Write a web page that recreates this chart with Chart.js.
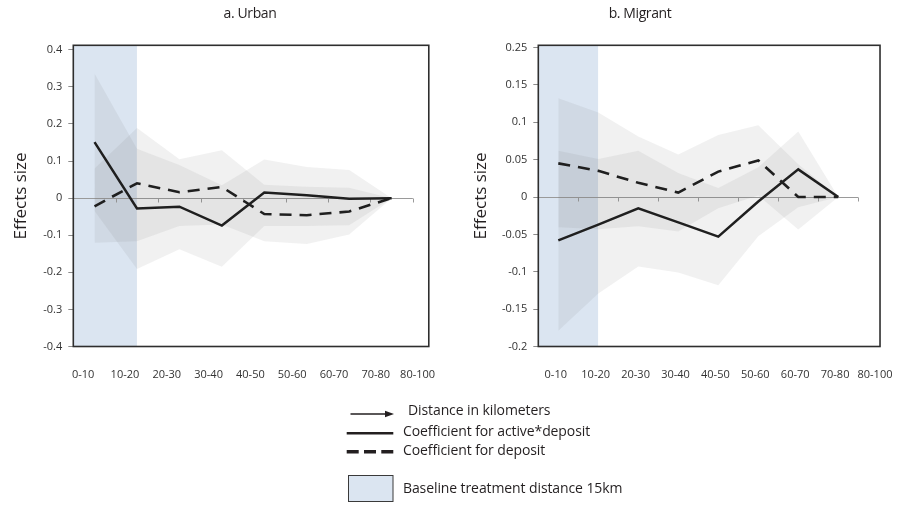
<!DOCTYPE html>
<html>
<head>
<meta charset="utf-8">
<script src="https://cdn.jsdelivr.net/npm/chart.js@4.4.1/dist/chart.umd.min.js"></script>
<style>
  html, body { margin: 0; padding: 0; background: #fff; }
  body { width: 915px; height: 513px; position: relative; overflow: hidden;
         font-family: "Open Sans", sans-serif; color: #231f20; }
  canvas { position: absolute; top: 0; }
  #urban { left: 0; }
  #migrant { left: 458px; }
  .ttl { position: absolute; top: 5px; width: 200px; text-align: center;
         font-size: 14px; line-height: 16px; letter-spacing: -0.4px; }
  .leg { position: absolute; font-size: 14px; line-height: 16px; white-space: nowrap; letter-spacing: -0.1px; }
  svg { position: absolute; left: 0; top: 0; }
</style>
</head>
<body>
<canvas id="urban" width="458" height="400"></canvas>
<canvas id="migrant" width="457" height="400"></canvas>

<div class="ttl" style="left:150px">a. Urban</div>
<div class="ttl" style="left:540px">b. Migrant</div>

<svg width="915" height="513">
  <line x1="350.5" y1="414" x2="388" y2="414" stroke="#231f20" stroke-width="1.3"/>
  <polygon points="385,410.8 394,414 385,417.2" fill="#231f20"/>
  <line x1="346.7" y1="433.3" x2="393.3" y2="433.3" stroke="#231f20" stroke-width="2.5"/>
  <line x1="346.7" y1="451.7" x2="393.3" y2="451.7" stroke="#231f20" stroke-width="3.5" stroke-dasharray="12,5.3"/>
  <rect x="348.5" y="475.5" width="44.5" height="26" fill="rgb(219,229,241)" stroke="#3a3a3a" stroke-width="1"/>
</svg>
<div class="leg" style="left:408px; top:402px">Distance in kilometers</div>
<div class="leg" style="left:403px; top:423px">Coefficient for active*deposit</div>
<div class="leg" style="left:403px; top:442px">Coefficient for deposit</div>
<div class="leg" style="left:403px; top:480px">Baseline treatment distance 15km</div>

<script>
// Distance bins (10 km each, last one open-ended)
const distLabels = ['0-10', '10-20', '20-30', '30-40', '40-50', '50-60', '60-70', '70-80', '80-100'];
const binKm = 10;
const baselineKm = 15;

// a. Urban — point estimates and confidence bands
const urbanActive     = [0.151, -0.028, -0.023, -0.074, 0.015, 0.008, -0.002, 0];
const urbanDeposit    = [-0.022, 0.040, 0.016, 0.030, -0.043, -0.046, -0.036, 0];
const urbanActiveHi   = [0.336, 0.133, 0.089, 0.035, 0.104, 0.084, 0.076, 0];
const urbanActiveLo   = [-0.035, -0.191, -0.138, -0.185, -0.075, -0.075, -0.073, 0];
const urbanDepositHi  = [0.080, 0.189, 0.105, 0.129, 0.036, 0.031, 0.028, 0];
const urbanDepositLo  = [-0.120, -0.116, -0.075, -0.071, -0.116, -0.124, -0.098, 0];
const urbanYTicks     = [-0.4, -0.3, -0.2, -0.1, 0, 0.1, 0.2, 0.3, 0.4];
const urbanYLabels    = ['-0.4', '-0.3', '-0.2', '-0.1', '0', '0.1', '0.2', '0.3', '0.4'];

// b. Migrant — point estimates and confidence bands
const migActive     = [-0.058, -0.037, -0.015, -0.034, -0.053, -0.006, 0.037, 0];
const migDeposit    = [0.045, 0.035, 0.019, 0.006, 0.034, 0.049, 0, 0];
const migActiveHi   = [0.062, 0.051, 0.062, 0.032, 0.012, 0.040, 0.0875, 0];
const migActiveLo   = [-0.179, -0.129, -0.093, -0.101, -0.118, -0.0525, -0.0136, 0];
const migDepositHi  = [0.132, 0.113, 0.081, 0.057, 0.083, 0.096, 0.044, 0];
const migDepositLo  = [-0.0405, -0.043, -0.039, -0.046, -0.015, 0.002, -0.0436, 0];
const migYTicks     = [-0.2, -0.15, -0.1, -0.05, 0, 0.05, 0.1, 0.15, 0.2];
const migYLabels    = ['-0.2', '-0.15', '-0.1', '-0.05', '0', '0.05', '0.1', '0.15', '0.25'];

const INK = '#1f1f1f';
const TICK_FONT = { family: 'Open Sans', size: 11 };

// points sit at the centre of each distance bin
const atBins = vals => vals.map((v, i) => ({ x: i + 0.5, y: v }));

// zero axis with bin ticks, drawn right after the baseline shading; plus the plot frame
const framePlugin = {
  id: 'frame',
  afterDatasetDraw(chart, args) {
    if (!chart.data.datasets[args.index].baseline) return;
    const { ctx } = chart;
    const xs = chart.scales.x, ys = chart.scales.y;
    const n = chart.data.datasets[args.index].bins;
    const y0 = Math.round(ys.getPixelForValue(0)) + 0.5;
    ctx.save();
    ctx.strokeStyle = '#9a9a9a';
    ctx.lineWidth = 1;
    ctx.beginPath();
    ctx.moveTo(xs.getPixelForValue(0), y0);
    ctx.lineTo(xs.getPixelForValue(n), y0);
    for (let i = 1; i <= n; i++) {
      const px = Math.round(xs.getPixelForValue(i)) + 0.5;
      ctx.moveTo(px, y0);
      ctx.lineTo(px, y0 + 4);
    }
    ctx.stroke();
    ctx.restore();
  },
  afterDraw(chart) {
    const { ctx, chartArea: a } = chart;
    ctx.save();
    ctx.strokeStyle = '#2e2e2e';
    ctx.lineWidth = 1.6;
    ctx.strokeRect(a.left, a.top, a.right - a.left, a.bottom - a.top);
    ctx.restore();
  }
};

function buildChart(id, d, cfg) {
  const nb = d.active.length;
  const datasets = [
    { label: 'active', data: atBins(d.active), borderColor: INK, borderWidth: 2.5, order: 0 },
    { label: 'deposit', data: atBins(d.deposit), borderColor: INK, borderWidth: 2.6,
      borderDash: [12, 8], order: 0 },
    { label: 'activeLo', data: atBins(d.activeLo), borderWidth: 0, order: 1 },
    { label: 'activeHi', data: atBins(d.activeHi), borderWidth: 0, order: 1,
      fill: 2, backgroundColor: 'rgba(120,120,120,0.10)' },
    { label: 'depositLo', data: atBins(d.depositLo), borderWidth: 0, order: 2 },
    { label: 'depositHi', data: atBins(d.depositHi), borderWidth: 0, order: 2,
      fill: 4, backgroundColor: 'rgba(120,120,120,0.10)' },
    { label: 'baseline', baseline: true, bins: nb,
      data: [{ x: 0, y: cfg.yMax }, { x: baselineKm / binKm, y: cfg.yMax }],
      borderWidth: 0, fill: 'start', backgroundColor: 'rgb(219,229,241)', order: 3 }
  ];
  datasets.forEach(ds => { ds.xAxisID = 'x'; ds.yAxisID = 'y'; ds.pointRadius = 0;
                           ds.tension = 0; ds.borderColor = ds.borderColor || 'rgba(0,0,0,0)'; });

  return new Chart(document.getElementById(id), {
    type: 'line',
    data: { datasets },
    plugins: [framePlugin],
    options: {
      responsive: false,
      animation: false,
      layout: { padding: { top: 45.3, right: cfg.padRight, left: 0, bottom: 0 } },
      plugins: { legend: { display: false }, tooltip: { enabled: false } },
      scales: {
        x: { type: 'linear', display: false, min: 0, max: cfg.xMax },
        xl: {
          type: 'linear', position: 'bottom', min: cfg.labMin, max: cfg.labMax,
          afterBuildTicks: s => { s.ticks = distLabels.map((_, i) => ({ value: i })); },
          afterFit: s => { s.height = 53.5; },
          ticks: { callback: (v, i) => distLabels[i], autoSkip: false, maxRotation: 0,
                   padding: 22, font: TICK_FONT, color: '#333' },
          grid: { display: false, drawTicks: false },
          border: { display: false }
        },
        y: {
          type: 'linear', min: cfg.yMin, max: cfg.yMax,
          afterBuildTicks: s => { s.ticks = cfg.yTicks.map(v => ({ value: v })); },
          afterFit: s => { s.width = cfg.yWidth; },
          ticks: { callback: (v, i) => cfg.yLabels[i], autoSkip: false, padding: 6,
                   font: TICK_FONT, color: '#333' },
          grid: { drawOnChartArea: false, drawTicks: true, tickLength: 5,
                  tickColor: '#8c8c8c', color: '#8c8c8c' },
          border: { display: false },
          title: { display: true, text: 'Effects size', color: '#231f20',
                   font: { family: 'Open Sans', size: 17 }, padding: { top: cfg.titlePad, bottom: 0 } }
        }
      }
    }
  });
}

buildChart('urban',
  { active: urbanActive, deposit: urbanDeposit, activeHi: urbanActiveHi, activeLo: urbanActiveLo,
    depositHi: urbanDepositHi, depositLo: urbanDepositLo },
  { yMin: -0.4, yMax: 0.412, yTicks: urbanYTicks, yLabels: urbanYLabels,
    xMax: 8.375, labMin: -0.236, labMax: 8.268, yWidth: 73.3, padRight: 25, titlePad: 11 });

buildChart('migrant',
  { active: migActive, deposit: migDeposit, activeHi: migActiveHi, activeLo: migActiveLo,
    depositHi: migDepositHi, depositLo: migDepositLo },
  { yMin: -0.2, yMax: 0.203, yTicks: migYTicks, yLabels: migYLabels,
    xMax: 8.544, labMin: -0.438, labMax: 8.126, yWidth: 80.3, padRight: 17, titlePad: 12.8 });
</script>
</body>
</html>
